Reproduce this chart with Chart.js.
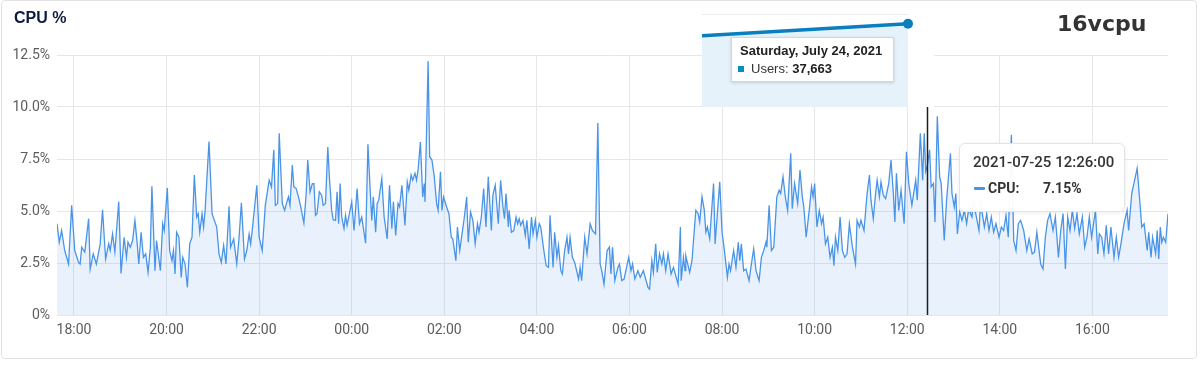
<!DOCTYPE html>
<html>
<head>
<meta charset="utf-8">
<script src="https://cdn.jsdelivr.net/npm/chart.js@4.4.0/dist/chart.umd.min.js"></script>
<style>
  html, body { margin: 0; padding: 0; background: #fff; }
  #wrap { position: relative; width: 1200px; height: 366px; overflow: hidden; font-family: Roboto, sans-serif; }
  #card { position: absolute; left: 1px; top: 0; width: 1196px; height: 359px; box-sizing: border-box;
          border: 1px solid #e3e3e3; border-radius: 4px; }
  #cpu { position: absolute; left: 0; top: 0; }
  #title { position: absolute; left: 14px; top: 9px; line-height: 18px; font: bold 16px "Liberation Sans", Arial, sans-serif; color: #0b1b3f; }
  #vcpu { position: absolute; left: 1057px; top: 11px; line-height: 26px; font: bold 22px "DejaVu Sans", sans-serif; color: #333; }
  #tip { position: absolute; left: 959px; top: 143px; width: 166px; height: 69px; box-sizing: border-box;
         background: rgba(255,255,255,0.96); border: 1px solid #e4e4e4; border-radius: 6px;
         box-shadow: 0 1px 4px rgba(0,0,0,0.08); color: #333; }
  #tip .t { position: absolute; left: 13px; top: 9px; line-height: 18px; font-size: 15px; font-weight: 500; white-space: nowrap; }
  #tip .dash { position: absolute; left: 14px; top: 43px; width: 11px; height: 3px; background: #4a94e8; border-radius: 1px; }
  #tip .k { position: absolute; left: 28px; top: 36px; line-height: 16px; font-size: 14px; font-weight: bold; }
  #tip .v { position: absolute; left: 83px; top: 36px; line-height: 16px; font-size: 14px; font-weight: bold; }
  #users { position: absolute; left: 702px; top: 14px; background: #fff; }
  #utip { position: absolute; left: 731px; top: 37px; width: 163px; height: 45px; box-sizing: border-box;
          background: #fff; border: 1px solid #d6d6d6; box-shadow: 0 1px 3px rgba(0,0,0,0.15);
          font-family: "Liberation Sans", Arial, sans-serif; font-size: 13px; color: #222; }
  #utip .t { position: absolute; left: 8px; top: 5px; line-height: 16px; font-weight: bold; white-space: nowrap; }
  #utip .sq { position: absolute; left: 6px; top: 28px; width: 6px; height: 6px; background: #058dc7; }
  #utip .l { position: absolute; left: 19px; top: 23px; line-height: 16px; white-space: nowrap; color: #333; }
  #utip .l b { color: #222; }
</style>
</head>
<body>
<div id="wrap">
  <div id="card"></div>
  <canvas id="cpu" width="1200" height="366"></canvas>
  <div id="title">CPU %</div>
  <div id="vcpu">16vcpu</div>
  <canvas id="users" width="232" height="93"></canvas>
  <div id="utip"><div class="t"></div><div class="sq"></div><div class="l"></div></div>
  <div id="tip"><div class="t"></div><div class="dash"></div><div class="k">CPU:</div><div class="v"></div></div>
</div>
<script>
// CPU samples.
// cpuMinutes = minutes after 2021-07-24 17:38, cpuValues = CPU %
var cpuMinutes = [
  0,3,6,10,15,19,23,28,30,32,36,41,43,47,51,56,59,63,67,69,72,75,80,83,87,90,92,95,98,101,104,106,109,112,115,118,
  121,123,127,129,134,137,139,143,146,149,151,153,155,158,161,163,166,169,172,175,178,181,183,185,188,190,192,197,
  201,207,210,213,216,219,223,225,229,233,236,239,243,246,249,251,253,259,262,266,270,275,278,281,283,286,288,
  292,295,298,300,302,305,307,310,313,316,320,323,325,328,331,333,335,337,340,343,345,348,351,353,356,358,361,363,
  365,367,369,372,374,376,379,382,385,389,392,395,400,403,407,408,410,413,415,417,421,424,428,431,434,436,439,442,
  444,447,451,454,456,459,461,464,466,468,471,474,476,477,481,483,486,489,492,494,497,499,501,505,508,511,513,517,
  519,522,525,528,531,533,536,539,542,545,547,550,553,556,559,563,565,568,572,575,578,
  580,582,585,586,589,592,595,597,599,601,604,607,609,612,615,617,620,622,625,627,631,634,637,639,643,645,648,650,
  653,655,658,661,663,665,668,671,676,678,680,684,687,691,694,698,701,704,706,709,713,716,718,720,723,727,729,732,
  735,741,744,746,749,753,756,760,766,768,771,773,776,778,781,784,786,789,792,796,799,805,808,809,812,814,815,820,
  823,828,831,833,836,839,841,843,846,851,853,859,862,864,
  869,871,873,877,880,883,885,887,890,893,897,900,903,906,910,913,916,919,920,923,926,929,933,936,938,941,944,947,
  951,953,956,960,963,966,968,971,975,978,980,982,985,988,991,993,996,999,1002,1005,1007,1009,1012,1015,1018,1021,
  1024,1027,1031,1035,1037,1040,1042,1046,1050,1053,1055,1058,1061,1063,1066,1068,1071,1074,1078,1081,1084,1086,
  1088,1091,1094,1098,1101,1104,1108,1111,1113,1115,1119,1122,1124,1126,1128,1131,1133,1136,1138,1141,1144,1146,
  1150,1153,
  1158,1160,1163,1165,1167,1170,1173,1176,1179,1182,1184,1186,1188,1190,1195,1197,1199,1202,1205,1208,1211,1214,
  1217,1221,1224,1227,1230,1233,1237,1240,1243,1246,1249,1253,1257,1260,1264,1267,1270,1275,1278,1281,1284,1287,
  1291,1294,1298,1301,1304,1307,1310,1313,1316,1319,1322,1325,1329,1332,1335,1338,1341,1346,1349,1351,1354,1357,
  1360,1363,1366,1370,1373,1376,1379,1383,1387,1389,1393,1400,1403,1406,1409,1413,1415,1418,1420,1424,1426,1428,
  1430,1432,1434,1437,1440
];
var cpuValues = [
  4.39,3.50,4.06,3.10,2.45,5.27,3.10,2.53,2.45,3.26,3.02,4.63,2.21,2.94,2.45,3.42,5.06,2.69,3.42,3.10,3.90,3.02,5.44,2.00,3.74,2.77,3.50,3.26,3.58,4.55,3.42,2.45,3.98,2.77,2.94,2.05,
  3.26,6.19,2.13,3.58,2.13,4.39,4.06,6.11,3.10,2.61,3.10,1.97,3.98,3.74,1.81,2.77,2.45,1.32,3.42,3.74,6.73,4.71,4.87,3.98,4.87,4.23,5.03,8.34,
  4.87,4.23,2.94,2.53,3.34,2.45,5.23,3.26,3.66,2.45,3.74,5.40,2.69,3.10,3.90,3.42,4.06,6.24,3.74,3.10,5.27,6.48,6.16,7.94,5.27,5.36,8.74,
  5.36,5.03,5.44,5.68,5.27,7.21,6.16,6.08,5.68,5.19,4.42,5.84,7.45,5.92,6.32,6.32,4.79,4.87,5.92,5.76,5.27,5.36,8.07,6.65,5.03,4.58,4.55,5.92,
  4.39,6.32,4.71,4.15,4.79,4.31,4.87,5.44,4.06,6.08,4.39,4.71,3.45,8.21,5.19,4.55,5.68,3.98,5.36,5.52,6.56,4.71,3.66,6.24,4.15,5.44,3.82,5.36,
  5.19,6.24,4.31,6.40,6.00,6.73,6.48,6.81,6.48,6.97,8.31,5.68,6.32,5.44,12.21,7.61,7.45,6.65,5.36,5.03,6.89,5.03,5.68,5.19,4.87,3.74,3.66,2.61,
  4.23,3.10,3.90,4.71,5.68,3.50,4.95,4.55,3.42,4.39,3.98,4.71,6.08,4.23,6.65,4.06,5.76,6.24,4.39,6.48,5.19,
  4.63,5.84,4.23,5.03,3.98,4.06,4.71,4.39,4.63,4.31,4.55,3.82,4.55,3.18,4.71,3.90,4.55,3.74,4.39,4.23,3.10,2.37,2.29,4.79,2.29,3.98,2.77,3.34,
  2.13,1.97,3.10,3.74,2.94,3.74,2.77,2.53,1.73,2.29,1.65,3.74,2.94,4.39,4.06,3.90,9.23,2.45,2.13,1.48,3.10,3.26,1.97,3.26,1.65,2.29,2.45,1.65,
  1.73,2.77,2.13,2.45,1.73,2.13,1.81,2.13,1.32,1.24,2.61,2.05,3.42,2.05,2.94,2.45,2.94,2.13,2.94,1.97,2.29,1.48,4.23,1.65,2.77,2.13,2.85,2.05,
  2.61,5.03,4.87,4.47,5.68,5.03,3.98,4.23,3.66,6.32,3.42,6.40,3.98,3.42,
  1.81,2.45,2.13,3.10,2.29,3.50,2.61,3.42,2.13,2.21,1.65,2.45,3.18,2.13,1.65,2.77,3.10,3.50,3.26,5.27,3.10,3.26,5.68,6.00,5.84,6.65,5.68,5.03,
  7.77,5.11,6.32,5.36,6.97,5.68,5.19,3.74,5.03,6.16,5.68,6.32,4.23,5.03,4.39,4.71,3.42,3.74,2.77,3.26,2.37,3.74,3.10,4.71,3.10,2.77,
  2.94,4.39,3.26,2.45,4.55,4.23,4.55,4.06,5.84,6.73,5.52,4.63,5.84,6.48,5.68,6.40,5.76,5.60,6.32,7.45,5.84,4.47,
  6.81,5.03,6.00,4.39,7.85,6.32,5.27,6.00,6.48,5.52,8.74,6.48,8.74,6.90,7.15,7.94,6.16,6.32,4.47,9.55,6.65,6.32,
  3.58,5.52,
  7.77,5.84,5.19,5.84,3.90,4.95,4.55,5.03,4.39,5.19,4.87,4.71,5.68,5.03,4.06,5.36,4.95,4.23,4.87,4.06,4.71,3.98,
  4.39,3.74,4.23,4.06,4.79,3.74,8.66,3.58,3.10,4.39,4.55,4.06,3.10,3.66,2.94,3.02,3.98,2.45,2.21,3.74,4.55,4.87,
  4.06,4.71,2.77,4.06,4.87,2.21,4.71,4.06,5.03,4.15,4.87,3.90,4.71,3.26,3.74,4.71,3.74,5.03,2.94,3.90,3.74,2.94,
  4.31,2.94,4.23,2.77,3.74,2.77,3.42,4.39,5.03,4.06,5.84,7.05,5.68,4.23,4.39,3.10,3.98,2.77,3.74,2.94,4.06,2.69,
  4.23,3.50,3.74,3.50,4.87
];

var xTickMinutes = [22, 142, 262, 382, 502, 622, 742, 862, 982, 1102, 1222, 1342];
var xTickLabels  = ['18:00','20:00','22:00','00:00','02:00','04:00','06:00','08:00','10:00','12:00','14:00','16:00'];
var yTickValues  = [0, 2.5, 5, 7.5, 10, 12.5];
var yTickLabels  = ['0%','2.5%','5.0%','7.5%','10.0%','12.5%'];

var hoverMinute = 1128; // 12:26, where the cursor sits

// the pasted "Users" chart snippet in the top middle
var usersLabels = ['Fri', 'Sat'];
var usersValues = [34830, 37663];
var usersDate   = 'Saturday, July 24, 2021';

function pad(n) { return ('0' + n).slice(-2); }
function stamp(min) {
  var d = new Date(2021, 6, 24, 17, 38 + min, 0);
  return d.getFullYear() + '-' + pad(d.getMonth() + 1) + '-' + pad(d.getDate()) + ' ' +
         pad(d.getHours()) + ':' + pad(d.getMinutes()) + ':' + pad(d.getSeconds());
}

Chart.defaults.font.family = 'Roboto';
Chart.defaults.font.size = 14;
Chart.defaults.color = '#5c5c5c';

var hoverIndex = cpuMinutes.indexOf(hoverMinute);

var crosshair = {
  id: 'crosshair',
  afterDatasetsDraw: function(chart) {
    var ctx = chart.ctx, x = chart.scales.x, y = chart.scales.y;
    var px = Math.round(x.getPixelForValue(cpuMinutes[hoverIndex])) + 0.5;
    ctx.save();
    ctx.strokeStyle = '#1e1e1e';
    ctx.lineWidth = 1.5;
    ctx.beginPath();
    ctx.moveTo(px, y.getPixelForValue(10));
    ctx.lineTo(px, y.bottom);
    ctx.stroke();
    ctx.restore();
  }
};

new Chart(document.getElementById('cpu'), {
  type: 'line',
  data: {
    datasets: [{
      label: 'CPU',
      data: cpuMinutes.map(function(m, i) { return { x: m, y: cpuValues[i] }; }),
      borderColor: '#4a94e8',
      backgroundColor: 'rgba(74,148,232,0.12)',
      borderWidth: 1.3,
      pointRadius: 0,
      fill: 'origin',
      tension: 0
    }]
  },
  options: {
    responsive: false,
    animation: false,
    events: [],
    layout: { autoPadding: false, padding: { left: 0, top: 55, right: 32, bottom: 0 } },
    plugins: { legend: { display: false }, tooltip: { enabled: false } },
    scales: {
      x: {
        type: 'linear', min: 0, max: 1440,
        afterBuildTicks: function(s) { s.ticks = xTickMinutes.map(function(v) { return { value: v }; }); },
        afterFit: function(s) { s.height = 51; },
        ticks: {
          padding: 7, maxRotation: 0, autoSkip: false,
          callback: function(v) { return xTickLabels[xTickMinutes.indexOf(v)]; }
        },
        grid: { color: '#e7e7e7', drawTicks: false },
        border: { display: false }
      },
      y: {
        min: 0, max: 12.5,
        afterBuildTicks: function(s) { s.ticks = yTickValues.map(function(v) { return { value: v }; }); },
        afterFit: function(s) { s.width = 57; },
        ticks: {
          padding: 7,
          callback: function(v) { return yTickLabels[yTickValues.indexOf(v)]; }
        },
        grid: { color: '#e7e7e7', drawTicks: false },
        border: { display: false }
      }
    }
  },
  plugins: [crosshair]
});

new Chart(document.getElementById('users'), {
  type: 'line',
  data: {
    labels: usersLabels,
    datasets: [{
      label: 'Users',
      data: usersValues,
      borderColor: '#0a7fc0',
      backgroundColor: '#e6f2fa',
      borderWidth: 3.5,
      pointRadius: [0, 5],
      pointBackgroundColor: '#0a7fc0',
      pointBorderWidth: 0,
      fill: 'start',
      clip: false,
      tension: 0
    }]
  },
  options: {
    responsive: false,
    animation: false,
    events: [],
    layout: { autoPadding: false, padding: { left: 0, top: 0, right: 26, bottom: 0 } },
    plugins: { legend: { display: false }, tooltip: { enabled: false } },
    scales: {
      x: { display: false, offset: false },
      y: {
        min: 17857, max: 40000,
        afterBuildTicks: function(s) { s.ticks = [{ value: 20000 }, { value: 40000 }]; },
        afterFit: function(s) { s.width = 0; },
        ticks: { display: false },
        grid: { color: 'rgba(0,0,0,0.07)', drawTicks: false },
        border: { display: false }
      }
    }
  }
});

document.querySelector('#utip .t').textContent = usersDate;
document.querySelector('#utip .l').innerHTML = 'Users: <b>' + usersValues[usersValues.length - 1].toLocaleString('en-US') + '</b>';
document.querySelector('#tip .t').textContent = stamp(cpuMinutes[hoverIndex]);
document.querySelector('#tip .v').textContent = cpuValues[hoverIndex].toFixed(2) + '%';
</script>
</body>
</html>
